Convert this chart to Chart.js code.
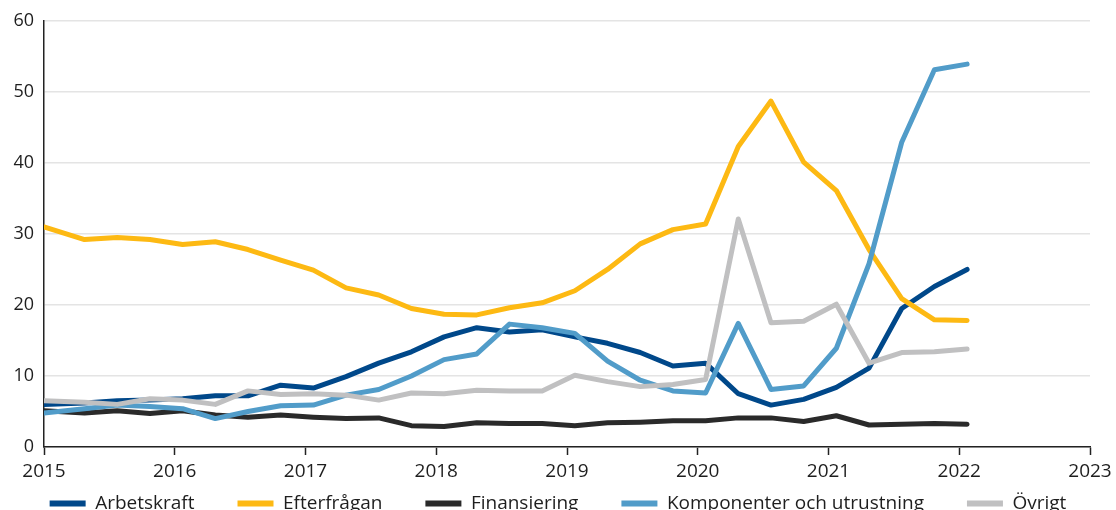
<!DOCTYPE html>
<html>
<head>
<meta charset="utf-8">
<script src="https://cdn.jsdelivr.net/npm/chart.js@4"></script>
<style>
  html, body { margin: 0; padding: 0; background: #fff; overflow: hidden; }
  #wrap { position: relative; width: 1116px; height: 553px; }
</style>
</head>
<body>
<div id="wrap"><canvas id="chart"></canvas></div>
<script>
// quarter positions as decimal years
const dates = [2015.00, 2015.31, 2015.56, 2015.81, 2016.06, 2016.31, 2016.56, 2016.81,
    2017.06, 2017.31, 2017.56, 2017.81, 2018.06, 2018.31, 2018.56, 2018.81,
    2019.06, 2019.31, 2019.56, 2019.81, 2020.06, 2020.31, 2020.56, 2020.81,
    2021.06, 2021.31, 2021.56, 2021.81, 2022.06];

const arbetskraft = [6.0, 6.2, 6.5, 6.6, 6.8, 7.2, 7.2, 8.7, 8.3, 9.9, 11.8, 13.4, 15.5, 16.8, 16.2, 16.5,
    15.5, 14.6, 13.3, 11.4, 11.8, 7.5, 5.9, 6.7, 8.4, 11.1, 19.5, 22.6, 25.0];
const efterfragan = [31.0, 29.2, 29.5, 29.2, 28.5, 28.9, 27.8, 26.3, 24.9, 22.4, 21.4, 19.5, 18.7, 18.6, 19.6, 20.3,
    22.0, 25.0, 28.6, 30.6, 31.4, 42.3, 48.7, 40.1, 36.1, 27.8, 20.9, 17.9, 17.8];
const finansiering = [5.1, 4.8, 5.1, 4.7, 5.1, 4.5, 4.2, 4.5, 4.2, 4.0, 4.1, 3.0, 2.9, 3.4, 3.3, 3.3,
    3.0, 3.4, 3.5, 3.7, 3.7, 4.1, 4.1, 3.6, 4.4, 3.1, 3.2, 3.3, 3.2];
const komponenter = [4.8, 5.4, 5.9, 5.7, 5.4, 4.0, 5.0, 5.8, 5.9, 7.3, 8.1, 10.0, 12.3, 13.1, 17.3, 16.8,
    16.0, 12.1, 9.4, 7.9, 7.6, 17.4, 8.1, 8.6, 13.9, 25.8, 42.9, 53.1, 53.9];
const ovrigt = [6.5, 6.3, 6.0, 6.8, 6.6, 6.0, 7.9, 7.4, 7.5, 7.3, 6.6, 7.6, 7.5, 8.0, 7.9, 7.9,
    10.1, 9.2, 8.5, 8.8, 9.5, 32.1, 17.5, 17.7, 20.1, 11.8, 13.3, 13.4, 13.8];

const seriesNames = ['Arbetskraft', 'Efterfrågan', 'Finansiering', 'Komponenter och utrustning', 'Övrigt'];
const seriesValues = [arbetskraft, efterfragan, finansiering, komponenter, ovrigt];
const seriesColors = ['#00488a', '#fdb913', '#2a2a2a', '#519cc9', '#c0c0c1'];
const drawOrder = [4, 3, 5, 2, 1];

const yTicks = [0, 10, 20, 30, 40, 50, 60];
const xTicks = [2015, 2016, 2017, 2018, 2019, 2020, 2021, 2022, 2023];

const FONT = "'Open Sans', sans-serif";
const TEXT = '#1e1e1e';

// pull the legend up so it sits just under the year labels
const legendShift = {
    id: 'legendShift',
    afterLayout(chart) {
        if (chart.legend) {
            chart.legend.top -= 30;
            chart.legend.bottom -= 30;
        }
    }
};

new Chart(document.getElementById('chart'), {
    type: 'line',
    data: {
        datasets: seriesNames.map((name, i) => ({
            label: name,
            data: seriesValues[i].map((v, k) => ({ x: dates[k], y: v })),
            borderColor: seriesColors[i],
            backgroundColor: seriesColors[i],
            borderWidth: 5,
            borderCapStyle: 'round',
            borderJoinStyle: 'round',
            pointRadius: 0,
            tension: 0,
            order: drawOrder[i]
        }))
    },
    plugins: [legendShift],
    options: {
        responsive: true,
        maintainAspectRatio: false,
        animation: false,
        events: [],
        layout: { padding: { top: 20, right: 0, left: 0, bottom: 0 } },
        plugins: {
            tooltip: { enabled: false },
            legend: {
                position: 'bottom',
                labels: {
                    font: { family: FONT, size: 19 },
                    color: TEXT,
                    boxWidth: 36,
                    boxHeight: 6,
                    padding: 43,
                    useBorderRadius: true,
                    borderRadius: 3,
                    generateLabels: chart => chart.data.datasets.map((ds, i) => ({
                        text: ds.label,
                        fillStyle: ds.borderColor,
                        strokeStyle: ds.borderColor,
                        lineWidth: 0,
                        fontColor: TEXT,
                        datasetIndex: i
                    }))
                }
            }
        },
        scales: {
            x: {
                type: 'linear',
                min: 2015,
                max: 2023,
                afterBuildTicks: scale => { scale.ticks = xTicks.map(v => ({ value: v })); },
                afterFit: scale => { scale.height = 34; scale.paddingRight = 26; },
                border: { color: '#222', width: 1.5 },
                grid: { drawOnChartArea: false, drawTicks: true, tickLength: 8, tickColor: '#222', tickWidth: 1.5 },
                ticks: {
                    callback: v => String(v),
                    font: { family: FONT, size: 19 },
                    color: TEXT,
                    padding: 5,
                    maxRotation: 0,
                    autoSkip: false
                }
            },
            y: {
                min: 0,
                max: 60,
                afterBuildTicks: scale => { scale.ticks = yTicks.map(v => ({ value: v })); },
                afterFit: scale => { scale.width = 44; },
                border: { color: '#222', width: 1.5 },
                grid: { color: '#e4e4e4', lineWidth: 1.5, drawTicks: false },
                ticks: {
                    font: { family: FONT, size: 18 },
                    color: TEXT,
                    padding: 10
                }
            }
        }
    }
});
</script>
</body>
</html>
